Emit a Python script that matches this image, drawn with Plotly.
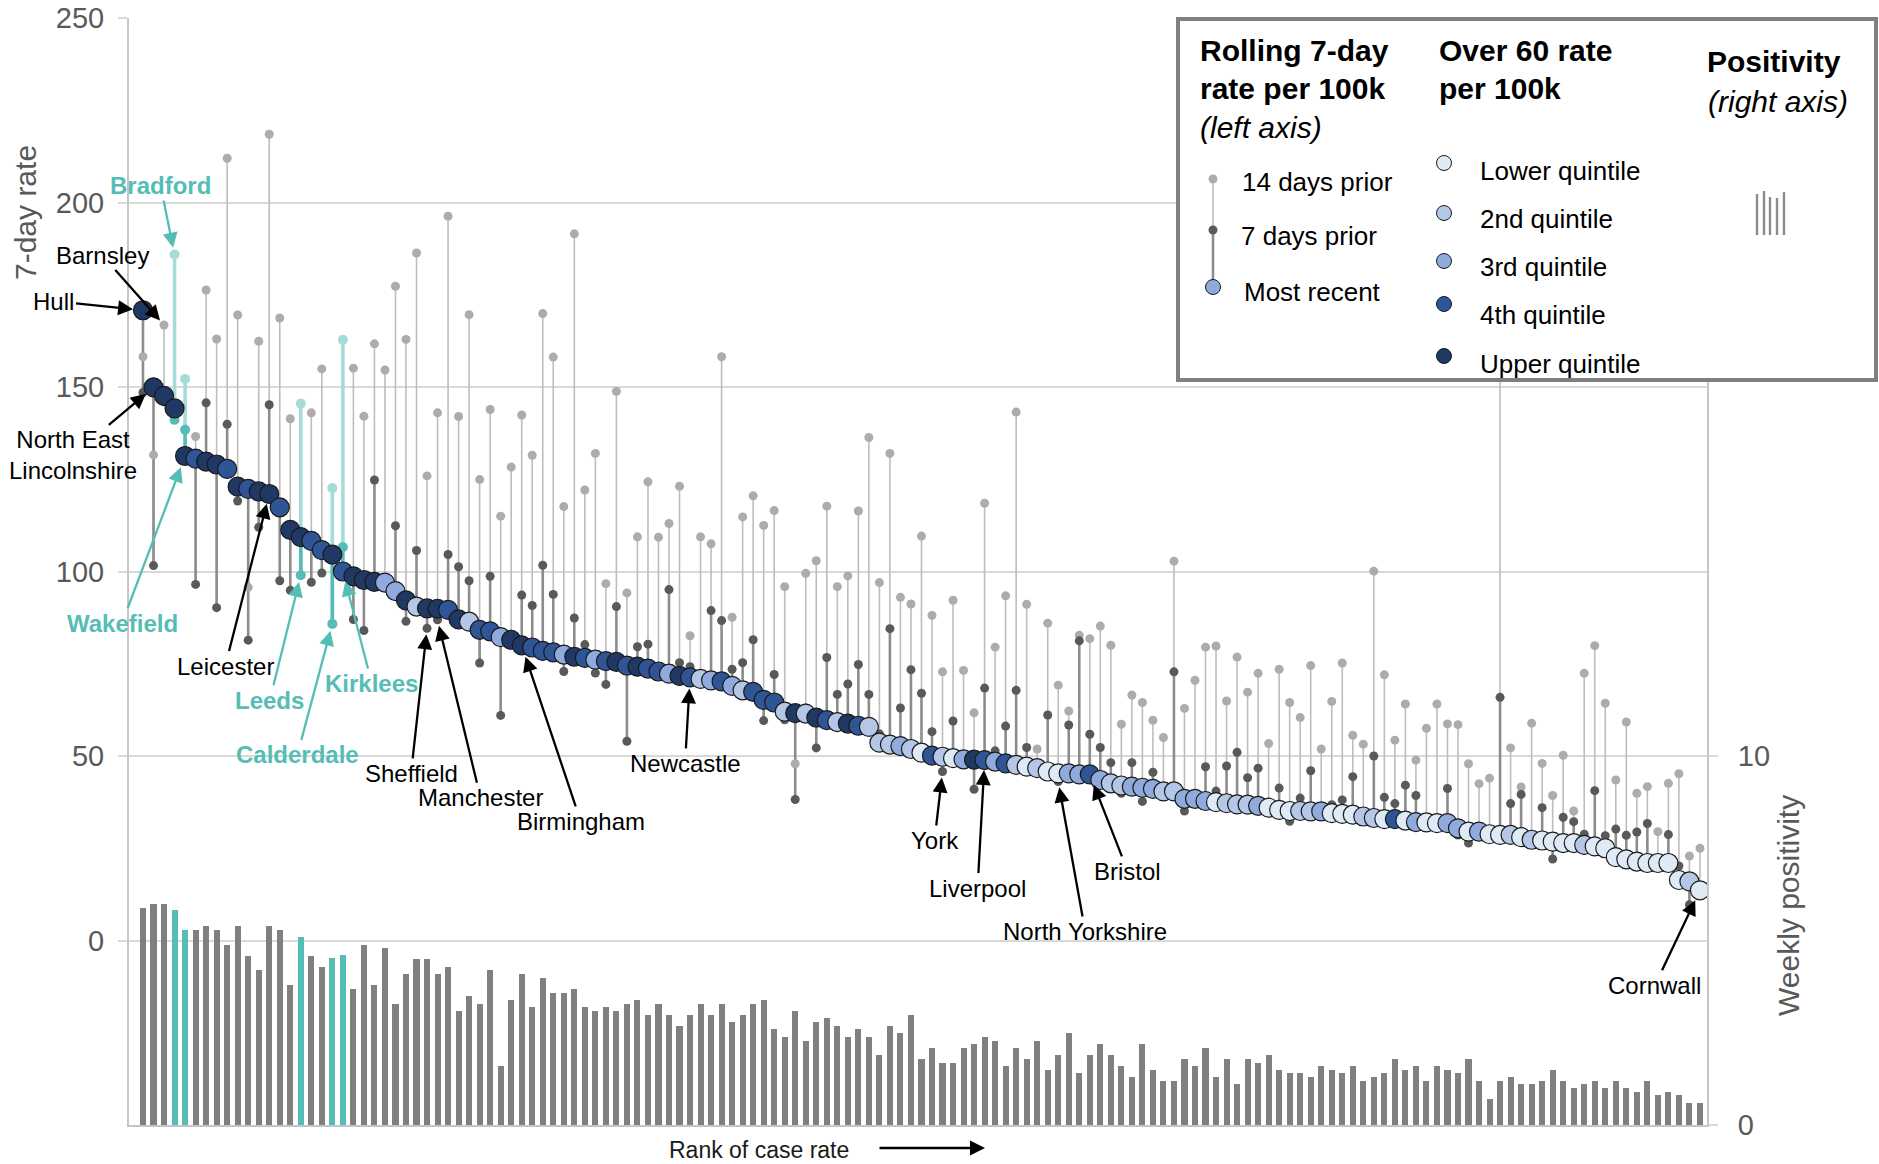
import plotly.graph_objects as go

# ---------------- data ----------------
rank = list(range(1, 150))

recent = [170.8,149.9,147.6,144.2,131.3,130.6,129.8,129.0,127.8,123.0,
          122.4,121.7,121.0,117.4,111.3,109.3,108.3,105.8,104.6,100.0,
          98.7,97.7,97.2,97.0,94.7,92.2,90.5,90.0,89.9,89.6,
          87.0,86.4,84.2,83.8,82.2,81.5,80.0,79.4,78.5,78.1,
          77.5,76.9,76.6,76.1,75.7,75.5,74.5,74.2,73.7,72.9,
          72.3,71.7,71.3,70.9,70.5,70.2,69.0,67.8,67.4,65.2,
          64.5,62.0,61.6,61.5,60.4,59.7,59.2,58.8,58.2,57.9,
          53.6,53.1,52.7,51.9,50.9,50.1,49.8,49.4,49.1,49.0,
          48.9,48.5,48.0,47.6,47.1,46.7,45.8,45.3,45.3,45.0,
          45.0,43.5,42.6,42.0,41.7,41.4,41.1,40.4,40.4,38.4,
          38.4,37.8,37.5,37.2,36.9,36.8,36.5,36.0,35.4,35.1,
          35.1,35.0,35.0,34.5,34.3,34.1,33.6,33.2,32.9,32.9,
          32.5,32.1,32.0,31.8,31.8,30.4,29.5,29.5,28.8,28.6,
          28.6,28.0,27.3,27.1,26.8,26.4,26.4,25.9,25.5,25.0,
          22.6,22.0,21.4,21.0,21.0,21.0,16.4,16.0,13.6]

prior7 = [148.5,101.6,146.0,141.1,138.4,96.5,145.7,90.2,139.9,119.1,
          81.4,112.0,145.2,97.5,94.9,99.0,97.1,99.6,85.8,106.6,
          87.0,84.0,124.8,98.0,112.4,86.5,105.7,84.6,86.9,104.6,
          101.3,97.5,75.2,98.7,61.0,83.0,93.6,90.8,101.7,93.8,
          72.9,87.4,80.2,72.5,69.4,90.5,54.0,79.6,80.3,74.0,
          95.1,75.3,74.2,72.0,89.4,86.7,73.5,75.3,81.5,59.6,
          72.1,59.8,38.2,63.0,52.2,76.7,66.7,69.5,74.8,66.7,
          56.0,84.5,63.0,73.4,67.0,56.6,45.8,59.5,48.5,41.0,
          68.4,51.4,58.1,67.8,52.3,48.0,61.1,43.1,58.4,81.2,
          55.9,52.3,48.2,39.9,48.2,37.7,45.6,39.0,72.8,35.1,
          39.5,47.1,40.5,47.3,51.0,44.1,46.7,37.0,41.3,32.3,
          38.6,46.0,36.0,36.8,38.1,44.4,34.5,50.0,38.8,37.1,
          42.1,39.3,33.0,33.0,41.2,28.6,26.4,30.5,29.5,65.9,
          37.1,39.6,28.0,36.0,22.1,33.4,32.2,28.8,40.6,28.4,
          30.2,28.5,29.4,31.7,21.5,28.7,20.2,9.7,14.5]

prior14 = [158.2,131.6,166.8,185.9,152.2,136.6,176.3,163.0,212.0,169.5,
           95.7,162.4,218.5,168.7,141.4,145.5,143.0,154.9,122.6,162.8,
           155.1,142.1,161.7,154.6,177.3,162.9,186.3,125.9,143.0,196.3,
           142.0,169.6,124.9,143.9,115.0,128.3,142.4,131.5,169.9,158.1,
           117.6,191.5,122.1,132.0,96.7,148.8,94.2,109.4,124.3,109.3,
           113.0,123.1,82.6,109.4,107.5,158.2,87.6,114.8,120.5,112.5,
           116.5,95.9,47.9,99.5,102.9,117.7,95.9,98.8,116.4,136.3,
           97.0,132.0,93.0,91.2,109.6,88.1,72.8,92.2,73.2,61.7,
           118.5,79.5,93.4,143.2,91.1,51.9,86.0,69.2,62.2,82.7,
           81.8,85.2,80.0,58.6,66.5,64.5,59.7,55.0,102.8,62.9,
           70.5,79.5,79.8,64.9,76.8,67.3,72.4,53.4,73.5,64.5,
           60.4,74.5,51.9,64.8,75.2,55.6,53.2,100.1,72.0,54.3,
           64.1,48.9,57.5,64.1,58.7,58.5,47.9,42.5,44.0,172.0,
           52.2,41.6,58.9,48.0,39.3,50.2,35.1,72.4,79.9,64.3,
           43.5,59.2,39.9,41.7,29.5,42.6,45.2,22.9,25.0]

quintile = [5,5,5,5,5,4,5,5,4,5,
            4,5,5,4,5,5,4,4,5,4,
            5,5,5,3,3,5,2,5,5,4,
            5,2,4,4,3,5,5,4,4,4,
            3,5,4,3,4,5,4,5,4,4,
            3,5,4,2,3,4,3,2,4,4,
            4,2,5,2,5,4,2,5,4,2,
            2,2,3,2,1,4,2,1,3,5,
            4,3,4,2,1,2,1,1,3,3,
            4,3,2,2,3,3,3,2,2,3,
            3,3,1,2,2,2,3,1,1,1,
            2,2,3,1,1,1,2,2,1,4,
            1,3,1,1,3,3,1,3,1,1,
            2,1,2,1,1,1,1,2,1,1,
            1,1,1,1,1,1,1,2,1]

positivity = [5.88,5.99,5.99,5.83,5.29,5.29,5.39,5.29,4.89,5.39,
              4.59,4.19,5.39,5.29,3.79,5.09,4.59,4.29,4.53,4.60,
              3.69,4.89,3.79,4.79,3.29,4.09,4.49,4.49,4.09,4.29,
              3.09,3.50,3.29,4.19,1.59,3.39,4.09,3.20,3.99,3.59,
              3.59,3.69,3.20,3.09,3.20,3.09,3.29,3.39,2.99,3.29,
              2.99,2.69,2.99,3.29,2.99,3.29,2.80,2.99,3.29,3.39,
              2.59,2.39,3.09,2.29,2.80,2.89,2.69,2.39,2.59,2.39,
              1.89,2.69,2.50,2.99,1.79,2.09,1.69,1.69,2.09,2.19,
              2.39,2.29,1.59,2.09,1.79,2.29,1.50,1.89,2.49,1.40,
              1.89,2.19,1.89,1.59,1.30,2.19,1.50,1.20,1.20,1.79,
              1.59,2.09,1.30,1.79,1.10,1.79,1.69,1.89,1.50,1.40,
              1.40,1.30,1.59,1.50,1.40,1.59,1.20,1.30,1.40,1.79,
              1.50,1.59,1.20,1.59,1.50,1.40,1.79,1.20,0.70,1.20,
              1.30,1.10,1.10,1.20,1.50,1.20,1.00,1.10,1.20,1.00,
              1.20,1.00,0.90,1.20,0.80,0.90,0.80,0.60,0.60]

highlight_ranks = [4, 5, 16, 19, 20]   # West Yorkshire authorities

# (label, rank, which series the arrow points at)
callouts = [
    ("Hull", 1, "recent"),
    ("Barnsley", 3, "prior14"),
    ("Bradford", 4, "prior14"),
    ("North East<br>Lincolnshire", 2, "recent"),
    ("Wakefield", 5, "recent"),
    ("Leicester", 13, "recent"),
    ("Leeds", 16, "prior7"),
    ("Calderdale", 19, "prior7"),
    ("Kirklees", 20, "recent"),
    ("Sheffield", 28, "prior7"),
    ("Manchester", 29, "prior7"),
    ("Birmingham", 37, "recent"),
    ("Newcastle", 53, "recent"),
    ("York", 77, "prior7"),
    ("Liverpool", 81, "recent"),
    ("North Yorkshire", 88, "prior7"),
    ("Bristol", 91, "recent"),
    ("Cornwall", 149, "recent"),
]

quintile_labels = ["Lower quintile", "2nd quintile", "3rd quintile", "4th quintile", "Upper quintile"]

# ---------------- styling ----------------
FONT = "Liberation Sans, Arial, sans-serif"
TEAL = "#55bdb6"
TEAL_LIGHT = "#a6dcd8"
Q_COL = {1: "#deeaf6", 2: "#b4c7e7", 3: "#8faadc", 4: "#2f5597", 5: "#203864"}
GRID = "#d9d9d9"
AXIS = "#c6c6c6"
TICKC = "#595959"

W, H = 1879, 1164
ML, MR, MT, MB = 129, 172, 18, 39
PW, PH = W - ML - MR, H - MT - MB


def pp(xp, yp):
    """pixel -> paper coordinates"""
    return (xp - ML) / PW, (H - MB - yp) / PH


series = {"recent": recent, "prior7": prior7, "prior14": prior14}


def segments(ranks, a, b):
    xs, ys = [], []
    for i in ranks:
        xs += [i, i, None]
        ys += [a[i - 1], b[i - 1], None]
    return xs, ys


normal = [i for i in rank if i not in highlight_ranks]
hl = [i for i in rank if i in highlight_ranks]

fig = go.Figure()

# positivity bars (right axis)
fig.add_trace(go.Bar(
    x=rank, y=positivity, yaxis="y2", width=0.58,
    marker=dict(color=[TEAL if i in highlight_ranks else "#7f7f7f" for i in rank], line=dict(width=0)),
    hoverinfo="skip"))

# stems
x, y = segments(normal, prior14, prior7)
fig.add_trace(go.Scatter(x=x, y=y, mode="lines", line=dict(color="#bdbdbd", width=1.6), hoverinfo="skip"))
x, y = segments(normal, prior7, recent)
fig.add_trace(go.Scatter(x=x, y=y, mode="lines", line=dict(color="#8c8c8c", width=2.6), hoverinfo="skip"))
x, y = segments(hl, prior14, prior7)
fig.add_trace(go.Scatter(x=x, y=y, mode="lines", line=dict(color=TEAL_LIGHT, width=3.6), hoverinfo="skip"))
x, y = segments(hl, prior7, recent)
fig.add_trace(go.Scatter(x=x, y=y, mode="lines", line=dict(color=TEAL, width=3.6), hoverinfo="skip"))

# prior dots
fig.add_trace(go.Scatter(x=normal, y=[prior14[i - 1] for i in normal], mode="markers",
                         marker=dict(size=9, color="#b0abab"), hoverinfo="skip"))
fig.add_trace(go.Scatter(x=normal, y=[prior7[i - 1] for i in normal], mode="markers",
                         marker=dict(size=9, color="#595959"), hoverinfo="skip"))
fig.add_trace(go.Scatter(x=hl, y=[prior14[i - 1] for i in hl], mode="markers",
                         marker=dict(size=10, color=TEAL_LIGHT), hoverinfo="skip"))
fig.add_trace(go.Scatter(x=hl, y=[prior7[i - 1] for i in hl], mode="markers",
                         marker=dict(size=10, color=TEAL), hoverinfo="skip"))

# most recent circles coloured by over-60 quintile
fig.add_trace(go.Scatter(x=rank, y=recent, mode="markers",
                         marker=dict(size=19, color=[Q_COL[q] for q in quintile],
                                     line=dict(color="#1a1a1a", width=1.2)),
                         hoverinfo="skip"))

# ---------------- callouts ----------------
offsets = {  # label text offset (px) and standoff
    "Hull": (-89, -9, 10), "Barnsley": (-62, -70, 6), "Bradford": (-14, -69, 7),
    "North East<br>Lincolnshire": (-81, 68, 10), "Wakefield": (-63, 167, 12),
    "Leicester": (-44, 172, 10), "Leeds": (-31, 125, 7), "Calderdale": (-35, 131, 7),
    "Kirklees": (29, 112, 10), "Sheffield": (-16, 145, 6), "Manchester": (43, 178, 6),
    "Birmingham": (59, 176, 12), "Newcastle": (-5, 86, 11), "York": (-8, 69, 6),
    "Liverpool": (-7, 128, 10), "North Yorkshire": (27, 150, 6), "Bristol": (38, 97, 11),
    "Cornwall": (-45, 95, 11),
}
annotations = []
for label, r, s in callouts:
    ax, ay, so = offsets[label]
    teal = r in highlight_ranks
    col = TEAL if teal else "#000000"
    annotations.append(dict(
        x=r, y=series[s][r - 1], xref="x", yref="y", ax=ax, ay=ay,
        text=f"<b>{label}</b>" if teal else label, showarrow=True,
        arrowhead=2, arrowsize=1.3, arrowwidth=2.3, arrowcolor=col, standoff=so,
        font=dict(family=FONT, size=24, color=col), align="center"))

# axis titles
px_, py_ = pp(26, 213)
annotations.append(dict(x=px_, y=py_, xref="paper", yref="paper", text="7-day rate", textangle=-90,
                        xanchor="center", yanchor="middle",
                        showarrow=False, font=dict(family=FONT, size=30, color=TICKC)))
px_, py_ = pp(1788, 906)
annotations.append(dict(x=px_, y=py_, xref="paper", yref="paper", text="Weekly positivity", textangle=-90,
                        xanchor="center", yanchor="middle",
                        showarrow=False, font=dict(family=FONT, size=30, color=TICKC)))

# rank label + arrow
px_, py_ = pp(667, 1150)
annotations.append(dict(x=px_, y=py_, xref="paper", yref="paper", text="Rank of case rate", xanchor="left",
                        yanchor="middle", showarrow=False, font=dict(family=FONT, size=23, color="#1a1a1a")))
px_, py_ = pp(985, 1148)
annotations.append(dict(x=px_, y=py_, xref="paper", yref="paper", text="", ax=-107, ay=0, showarrow=True,
                        arrowhead=2, arrowsize=1.2, arrowwidth=2.5, arrowcolor="#000000"))

# ---------------- custom legend box ----------------
shapes = []
bx0, by0 = pp(1178, 380)
bx1, by1 = pp(1876, 19)
shapes.append(dict(type="rect", xref="paper", yref="paper", x0=bx0, y0=by0, x1=bx1, y1=by1,
                   fillcolor="white", line=dict(color="#7f7f7f", width=4), layer="above"))


def circle(cx, cy, r, fill, line_col=None, lw=0):
    x0, y0 = pp(cx - r, cy + r)
    x1, y1 = pp(cx + r, cy - r)
    return dict(type="circle", xref="paper", yref="paper", x0=x0, y0=y0, x1=x1, y1=y1,
                fillcolor=fill, line=dict(color=line_col or fill, width=lw), layer="above")


def vline(xc, ya, yb, col, w):
    x0, y0 = pp(xc, ya)
    x1, y1 = pp(xc, yb)
    return dict(type="line", xref="paper", yref="paper", x0=x0, y0=y0, x1=x1, y1=y1,
                line=dict(color=col, width=w), layer="above")


shapes.append(vline(1213, 179, 230, "#bdbdbd", 1.6))
shapes.append(vline(1213, 230, 287, "#8c8c8c", 2.6))
shapes.append(circle(1213, 179, 4.5, "#b0abab"))
shapes.append(circle(1213, 230, 4.5, "#595959"))
shapes.append(circle(1213, 287, 7.5, Q_COL[3], "#1a1a1a", 1))

q_y = [163, 213, 261, 304, 356]
for k, yy in enumerate(q_y):
    shapes.append(circle(1444, yy, 7.5, Q_COL[k + 1], "#1a1a1a", 1))

# positivity icon bars
for bx, top in [(1757, 194), (1764, 191), (1770, 197), (1777, 198), (1784, 192)]:
    x0, y0 = pp(bx - 1.2, 235)
    x1, y1 = pp(bx + 1.2, top)
    shapes.append(dict(type="rect", xref="paper", yref="paper", x0=x0, y0=y0, x1=x1, y1=y1,
                       fillcolor="#8c8c8c", line=dict(width=0), layer="above"))


def txt(xp, yp, text, size, xanchor="left", color="#000000"):
    x0, y0 = pp(xp, yp)
    return dict(x=x0, y=y0, xref="paper", yref="paper", text=text, showarrow=False,
                xanchor=xanchor, yanchor="middle", font=dict(family=FONT, size=size, color=color))


annotations += [
    txt(1198, 50, "<b>Rolling 7-day</b>", 30),
    txt(1198, 88, "<b>rate per 100k</b>", 30),
    txt(1198, 127, "<i>(left axis)</i>", 30),
    txt(1437, 50, "<b>Over 60 rate</b>", 30),
    txt(1437, 88, "<b>per 100k</b>", 30),
    txt(1774, 61, "<b>Positivity</b>", 30, "center"),
    txt(1778, 101, "<i>(right axis)</i>", 30, "center"),
    txt(1240, 182, "14 days prior", 26),
    txt(1239, 236, "7 days prior", 26),
    txt(1242, 292, "Most recent", 26),
]
for lab, yy in zip(quintile_labels, [171, 219, 267, 315, 364]):
    annotations.append(txt(1478, yy, lab, 26))

fig.update_layout(
    width=W, height=H,
    margin=dict(l=ML, r=MR, t=MT, b=MB, autoexpand=False),
    paper_bgcolor="white", plot_bgcolor="white",
    showlegend=False, bargap=0,
    font=dict(family=FONT),
    xaxis=dict(range=[-0.33, 149.67], showticklabels=False, showgrid=False, zeroline=False,
               showline=True, linecolor=AXIS, linewidth=2, ticks="", automargin=False),
    yaxis=dict(range=[-50, 250], tickvals=[0, 50, 100, 150, 200, 250], showgrid=True,
               gridcolor=GRID, gridwidth=2, zeroline=False, showline=True, linecolor=AXIS,
               linewidth=2, ticks="outside", ticklen=9, tickcolor=GRID, tickwidth=2,
               tickfont=dict(family=FONT, size=29, color=TICKC), ticklabelstandoff=8,
               automargin=False),
    yaxis2=dict(range=[0, 30], tickvals=[0, 10], overlaying="y", side="right", showgrid=False,
                zeroline=False, showline=True, linecolor=AXIS, linewidth=2, ticks="outside",
                ticklen=9, tickcolor=GRID, tickwidth=2,
                tickfont=dict(family=FONT, size=29, color=TICKC), ticklabelstandoff=14,
                automargin=False),
    shapes=shapes,
    annotations=annotations,
)

fig.write_html("out.html", config={"displayModeBar": False})
